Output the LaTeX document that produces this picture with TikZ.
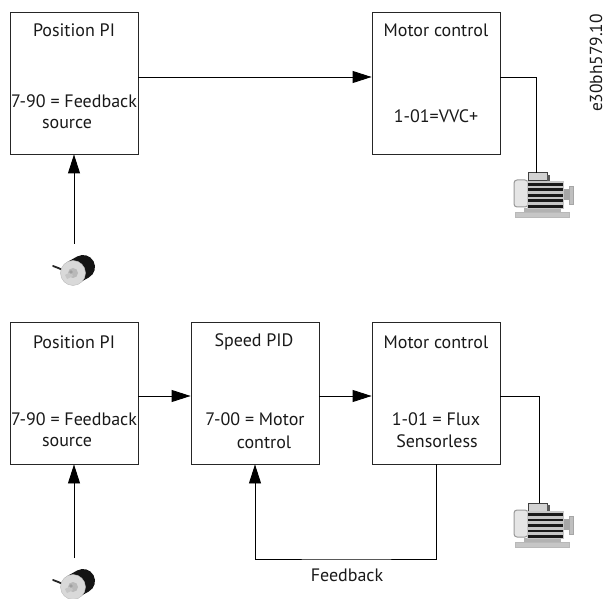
\documentclass[tikz,border=0pt]{standalone}
\usepackage{fontspec}
\setmainfont{PT Sans}
\usetikzlibrary{positioning}
\usetikzlibrary{arrows.meta}

\tikzset{
	motor pic/.pic={
		% end cap, body and feet
		\fill[rounded corners=3pt,gray!20,draw=gray!80,line width=1pt] (0,7) rectangle (14,34);
		\fill[gray!60] (10,35) rectangle (47,39);
		\fill[gray!45,draw=gray!55,line width=.5pt] (1,39) rectangle (55,44);
		\fill[gray!35,draw=black!75,line width=1pt] (14,8) rectangle (33,0);
		\fill[black!65] (33,2) rectangle (36,8);
		\fill[gray!45] (13,8) rectangle (50,36);
		\foreach \stripe in {10,15.5,21,26.5,32}
			\fill[black!90] (14,\stripe) rectangle (49,\stripe+2.8);
		\fill[gray!70] (50,16) rectangle (56,27);
		\fill[gray!50,draw=gray!70,line width=.5pt] (55,13) rectangle (59,31);
	},
	encoder pic/.pic={
		\draw[black!85,line width=1.8pt,line cap=round] (-21,22) .. controls (-17,23) and (-14,25) .. (-9,27);
		\draw[black!92,line width=24pt,line cap=round] (0,28) -- (9,23);
		\fill[gray!30,draw=gray!55,line width=.4pt] (-1,29) circle (12.5pt);
		\fill[gray!55] (-1,29) circle (5pt);
		\draw[gray!45,line width=4.5pt] (-2,30) -- (-8,33);
		\fill[gray!75] (-3,28) circle (1.8pt);
	}
}

\begin{document}
\begin{tikzpicture}[x=1pt,y=-1pt,>={Stealth[length=19pt,width=12pt,inset=0pt]},
	line width=.8pt,node distance=181pt,
	block/.style={rectangle,draw=black!85,minimum width=128pt,minimum height=142pt,inner sep=0pt},
	txt/.style={font=\fontsize{18}{20}\selectfont,inner sep=0pt,text=black!90}]
	
	\useasboundingbox (0,0) rectangle (606,599);
	
	\node[block] (pos1) at (74,83) {};
	\node[block] (ctrl1) [right of=pos1,node distance=362pt] {};
	\node[block] (pos2) [below of=pos1,node distance=310pt] {};
	\node[block] (speed) [right of=pos2] {};
	\node[block] (ctrl2) [right of=speed] {};
	
	\node[txt] (pos1a) [above of=pos1,node distance=53pt] {Position PI};
	\node[txt] (pos1b) [below of=pos1,node distance=18pt] {7-90 = Feedback};
	\node[txt] (pos1c) [below of=pos1,node distance=41pt,xshift=-7pt] {source};
	\node[txt] (ctrl1a) [above of=ctrl1,node distance=53pt] {Motor control};
	\node[txt] (ctrl1b) [below of=ctrl1,node distance=33pt] {1-01=VVC+};
	\node[txt] (pos2a) [above of=pos2,node distance=51pt] {Position PI};
	\node[txt] (pos2b) [below of=pos2,node distance=26pt] {7-90 = Feedback};
	\node[txt] (pos2c) [below of=pos2,node distance=49pt,xshift=-7pt] {source};
	\node[txt] (speeda) [above of=speed,node distance=51pt,xshift=-1pt] {Speed PID};
	\node[txt] (speedb) [below of=speed,node distance=26pt] {7-00 = Motor};
	\node[txt] (speedc) [below of=speed,node distance=49pt,xshift=9pt] {control};
	\node[txt] (ctrl2a) [above of=ctrl2,node distance=51pt] {Motor control};
	\node[txt] (ctrl2b) [below of=ctrl2,node distance=26pt] {1-01 = Flux};
	\node[txt] (ctrl2c) [below of=ctrl2,node distance=48pt,xshift=1pt] {Sensorless};
	\node[txt] (fbtext) at (347,575) {Feedback};
	\node[txt,rotate=90,font=\fontsize{17.4}{20}\selectfont] (code) at (596,63) {e30bh579.10};
	
	\coordinate (enc1) at (74,244);
	\coordinate (enc2) at (74,558);
	\coordinate (mot1) at (536,173);
	\coordinate (mot2) at (539,503);
	\coordinate (fb) at (347,559);
	
	\pic at (514,173) {motor pic};
	\pic at (514,503) {motor pic};
	\pic at (74,244) {encoder pic};
	\pic at (74,558) {encoder pic};
	
	\draw[->] ([yshift=6pt]pos1.east) -- ([yshift=6pt]ctrl1.west);
	\draw[->] (enc1) -- (pos1.south);
	\draw ([yshift=6pt]ctrl1.east) -| (mot1);
	\draw[->] ([yshift=-3pt]pos2.east) -- ([yshift=-3pt]speed.west);
	\draw[->] ([yshift=-3pt]speed.east) -- ([yshift=-3pt]ctrl2.west);
	\draw[->] (enc2) -- (pos2.south);
	\draw ([yshift=-3pt]ctrl2.east) -| (mot2);
	\draw[->] (ctrl2.south) |- (fb) -| (speed.south);
\end{tikzpicture}
\end{document}
